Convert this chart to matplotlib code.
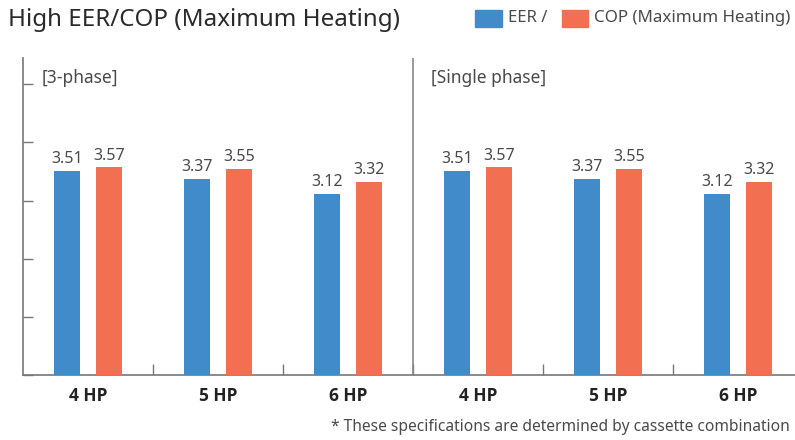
import matplotlib
matplotlib.use("Agg")
import matplotlib.pyplot as plt
import numpy as np
from matplotlib.patches import Rectangle

plt.rcParams['font.family'] = ['Noto Sans', 'DejaVu Sans']

categories = ["4 HP", "5 HP", "6 HP", "4 HP", "5 HP", "6 HP"]
eer = [3.51, 3.37, 3.12, 3.51, 3.37, 3.12]
cop = [3.57, 3.55, 3.32, 3.57, 3.55, 3.32]
panels = ["[3-phase]", "[Single phase]"]

blue = "#418bca"
orange = "#f26f51"
txt = "#4a4a4a"

W, H = 795, 440
fig = plt.figure(figsize=(W/100, H/100), dpi=100)
x0, yb, yt = 23, 375, 58
xr = 795
ax = fig.add_axes([x0/W, (H-yb)/H, (xr-x0)/W, (yb-yt)/H])
ax.set_xlim(-0.5, -0.5 + (xr-x0)/130)
ax.set_ylim(0, 5.45)

x = np.arange(len(categories))
off, bw = 0.162, 0.2
ax.bar(x - off, eer, bw, color=blue, zorder=3)
ax.bar(x + off, cop, bw, color=orange, zorder=3)
for xi, v in zip(x, eer):
    ax.text(xi - off, v + 0.06, f"{v:.2f}", ha='center', va='bottom', fontsize=11.5, color=txt)
for xi, v in zip(x, cop):
    ax.text(xi + off, v + 0.06, f"{v:.2f}", ha='center', va='bottom', fontsize=11.5, color=txt)

for s in ['top', 'right']:
    ax.spines[s].set_visible(False)
for s in ['left', 'bottom']:
    ax.spines[s].set_color('#777777')
    ax.spines[s].set_linewidth(1.2)

ax.set_yticks([0, 1, 2, 3, 4, 5])
ax.set_yticklabels([])
ax.tick_params(axis='y', direction='in', length=7, color='#777777', width=1)
ax.set_xticks(np.arange(0.5, 5.0, 1.0))
ax.set_xticklabels([])
ax.tick_params(axis='x', direction='in', length=8, color='#777777', width=1)

# divider between panels
ax.axvline(2.5, color='#888888', lw=1.2, zorder=2)

for xi, c in zip(x, categories):
    ax.text(xi, -0.2, c, ha='center', va='top', fontsize=12.5, fontweight='bold',
            family=['Open Sans', 'DejaVu Sans'], color='#222222')

ax.text(-0.36, 5.1, panels[0], ha='left', va='center', fontsize=12.5, color=txt)
ax.text(2.64, 5.1, panels[1], ha='left', va='center', fontsize=12.5, color=txt)

fig.text(8/W, 1 - 20/H, "High EER/COP (Maximum Heating)", ha='left', va='center',
         fontsize=17.4, color='#2a2a2a')

# legend
fig.patches.append(Rectangle((475/W, 1 - 27/H), 27/W, 17/H, color=blue,
                             transform=fig.transFigure))
fig.text(508/W, 1 - 18.5/H, "EER /", ha='left', va='center', fontsize=12, color=txt)
fig.patches.append(Rectangle((562/W, 1 - 27/H), 26/W, 17/H, color=orange,
                             transform=fig.transFigure))
fig.text(594/W, 1 - 18.5/H, "COP (Maximum Heating)", ha='left', va='center', fontsize=12.2, color=txt)

fig.text(790/W, 1 - 427/H, "* These specifications are determined by cassette combination",
         ha='right', va='center', fontsize=11.2, color=txt)

fig.savefig("out.png", dpi=100)
